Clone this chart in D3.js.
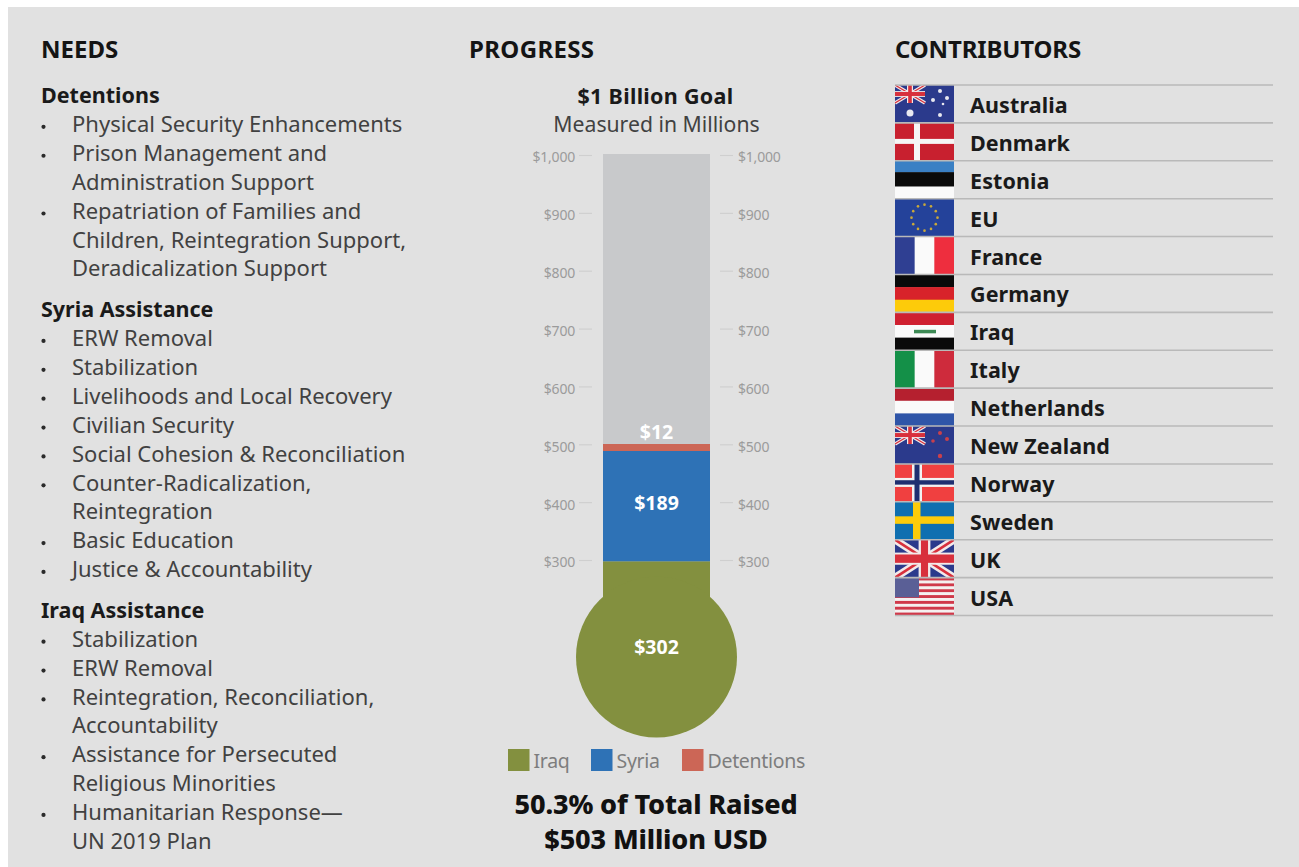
<!DOCTYPE html>
<html>
<head>
<meta charset="utf-8">
<script src="https://cdnjs.cloudflare.com/ajax/libs/d3/7.8.5/d3.min.js"></script>
<style>
html, body { margin: 0; padding: 0; background: #fff; }
svg { display: block; }
text { font-family: "Noto Sans", sans-serif; }
</style>
</head>
<body>
<div id="chart"></div>
<script>
// values
var segNames = ["Iraq", "Syria", "Detentions"];
var segValues = [302, 189, 12];
var segColors = ["#83903f", "#2e72b6", "#cc6656"];
var segLabels = ["$302", "$189", "$12"];
var goal = 1000;
var tickValues = [300, 400, 500, 600, 700, 800, 900, 1000];
var needs = [
    ["h", "Detentions"],
    ["b", "Physical Security Enhancements"],
    ["b", "Prison Management and"],
    ["c", "Administration Support"],
    ["b", "Repatriation of Families and"],
    ["c", "Children, Reintegration Support,"],
    ["c", "Deradicalization Support"],
    ["h", "Syria Assistance"],
    ["b", "ERW Removal"],
    ["b", "Stabilization"],
    ["b", "Livelihoods and Local Recovery"],
    ["b", "Civilian Security"],
    ["b", "Social Cohesion & Reconciliation"],
    ["b", "Counter-Radicalization,"],
    ["c", "Reintegration"],
    ["b", "Basic Education"],
    ["b", "Justice & Accountability"],
    ["h", "Iraq Assistance"],
    ["b", "Stabilization"],
    ["b", "ERW Removal"],
    ["b", "Reintegration, Reconciliation,"],
    ["c", "Accountability"],
    ["b", "Assistance for Persecuted"],
    ["c", "Religious Minorities"],
    ["b", "Humanitarian Response\u2014"],
    ["c", "UN 2019 Plan"]
];
var countries = ["Australia", "Denmark", "Estonia", "EU", "France", "Germany", "Iraq", "Italy",
    "Netherlands", "New Zealand", "Norway", "Sweden", "UK", "USA"];

var W = 1299, H = 867;
var svg = d3.select("#chart").append("svg").attr("width", W).attr("height", H);
svg.append("rect").attr("x", 8).attr("y", 7).attr("width", W - 8).attr("height", H - 7).attr("fill", "#e1e1e1");

function title(x, s, sp) {
    svg.append("text").attr("x", x).attr("y", 58).attr("font-size", 24).attr("font-weight", 700)
        .attr("fill", "#141414").attr("letter-spacing", sp).text(s);
}
title(41, "NEEDS", 0);
title(469, "PROGRESS", 0.35);
title(895, "CONTRIBUTORS", -0.15);

// needs list
var ly = 95.5;
var needG = svg.append("g");
needs.forEach(function(d, i) {
    if (d[0] == "h" && i > 0) ly += 12;
    var t = needG.append("text").attr("y", ly).attr("dy", "0.35em");
    if (d[0] == "h") {
        t.attr("x", 41).attr("font-size", 21.5).attr("font-weight", 700).attr("fill", "#1a1a1a").text(d[1]);
    } else {
        t.attr("x", 72).attr("font-size", 22).attr("fill", "#414141").text(d[1]);
        if (d[0] == "b") {
            needG.append("circle").attr("cx", 43.5).attr("cy", ly + 2.5).attr("r", 2.1).attr("fill", "#2a2a2a");
        }
    }
    ly += 28.87;
});

// thermometer
var cx = 656.5, barW = 107;
var y = d3.scaleLinear().domain([0, goal]).range([737.5, 154]);
var yAxisScale = d3.scaleLinear().domain([300, goal]).range([560, 155]);
var bulbR = 80.5, bulbY = y(0) - bulbR;

svg.append("rect").attr("x", cx - barW / 2).attr("width", barW).attr("y", y(goal))
    .attr("height", y(0) - y(goal) - bulbR).attr("fill", "#c8c9cb");

var stack = [], sum = 0;
segValues.forEach(function(v, i) {
    stack.push({ name: segNames[i], color: segColors[i], label: segLabels[i], y0: sum, y1: sum + v });
    sum += v;
});
svg.selectAll(".seg").data(stack).enter().append("rect").attr("class", "seg")
    .attr("x", cx - barW / 2).attr("width", barW)
    .attr("y", function(d) { return y(d.y1); })
    .attr("height", function(d, i) { return (i == 0 ? bulbY : y(d.y0)) - y(d.y1); })
    .attr("fill", function(d) { return d.color; });
svg.append("circle").attr("cx", cx).attr("cy", bulbY).attr("r", bulbR).attr("fill", segColors[0]);

var labelYs = [647, 503, 432];
svg.selectAll(".seglabel").data(stack).enter().append("text").attr("class", "seglabel")
    .attr("x", cx).attr("y", function(d, i) { return labelYs[i]; }).attr("dy", "0.35em")
    .attr("text-anchor", "middle").attr("font-size", 19.5).attr("font-weight", 700).attr("fill", "#fff")
    .text(function(d) { return d.label; });

function fmt(v) { return "$" + d3.format(",")(v); }
function styleAxis(g) {
    g.select(".domain").remove();
    g.selectAll("line").attr("stroke", "#cfcfcf").attr("stroke-width", 1.2);
    g.selectAll("text").attr("fill", "#9b9b9b").attr("font-size", 14).attr("letter-spacing", -0.2)
        .attr("transform", "translate(0,2.5)")
        .style("font-family", '"Noto Sans", sans-serif');
}
svg.append("g").attr("transform", "translate(592,0)")
    .call(d3.axisLeft(yAxisScale).tickValues(tickValues).tickFormat(fmt).tickSize(13).tickPadding(4))
    .call(styleAxis);
svg.append("g").attr("transform", "translate(720,0)")
    .call(d3.axisRight(yAxisScale).tickValues(tickValues).tickFormat(fmt).tickSize(13).tickPadding(5))
    .call(styleAxis);

svg.append("text").attr("x", cx - 1).attr("y", 96).attr("dy", "0.35em").attr("text-anchor", "middle")
    .attr("font-size", 21.5).attr("font-weight", 700).attr("fill", "#1a1a1a").attr("letter-spacing", 0.3)
    .text("$1 Billion Goal");
svg.append("text").attr("x", cx).attr("y", 125).attr("dy", "0.35em").attr("text-anchor", "middle")
    .attr("font-size", 21.2).attr("fill", "#414141")
    .text("Measured in Millions");

// legend
var legendX = [508, 591, 682];
segNames.forEach(function(n, i) {
    svg.append("rect").attr("x", legendX[i]).attr("y", 749).attr("width", 21.5).attr("height", 22).attr("fill", segColors[i]);
    svg.append("text").attr("x", legendX[i] + 25.5).attr("y", 761).attr("dy", "0.35em")
        .attr("font-size", 19.5).attr("fill", "#7d7d7d").attr("letter-spacing", -0.3).text(n);
});

svg.append("text").attr("x", 656).attr("y", 805).attr("dy", "0.35em").attr("text-anchor", "middle")
    .attr("font-size", 27).attr("font-weight", 800).attr("fill", "#111").attr("letter-spacing", -0.15)
    .text("50.3% of Total Raised");
svg.append("text").attr("x", 656).attr("y", 840).attr("dy", "0.35em").attr("text-anchor", "middle")
    .attr("font-size", 27).attr("font-weight", 800).attr("fill", "#111").attr("letter-spacing", -0.15)
    .text("$503 Million USD");

// contributors
var fx = 895, fw = 59, rowTop = 85;
var row = d3.scaleBand().domain(countries).range([rowTop, 615.5]);
var fh = row.bandwidth();

function hBands(g, cols, fr) {
    var yy = 0;
    cols.forEach(function(c, i) {
        var h = fh * (fr ? fr[i] : 1 / cols.length);
        g.append("rect").attr("x", 0).attr("y", yy).attr("width", fw).attr("height", h + 0.3).attr("fill", c);
        yy += h;
    });
}
function vBands(g, cols, fr) {
    var xx = 0;
    cols.forEach(function(c, i) {
        var w = fw * (fr ? fr[i] : 1 / cols.length);
        g.append("rect").attr("x", xx).attr("y", 0).attr("width", w + 0.3).attr("height", fh).attr("fill", c);
        xx += w;
    });
}
function box(g, x, y, w, h, c) {
    g.append("rect").attr("x", x).attr("y", y).attr("width", w).attr("height", h).attr("fill", c);
}
function cross(g, vx, vw, hy, hh, c) {
    box(g, vx, 0, vw, fh, c);
    box(g, 0, hy, fw, hh, c);
}
function star(g, x, y, r, c) {
    g.append("circle").attr("cx", x).attr("cy", y).attr("r", r).attr("fill", c);
}
function union(g, w, h, bg) {
    box(g, 0, 0, w, h, bg);
    [[0, 0, w, h], [0, h, w, 0]].forEach(function(l) {
        g.append("line").attr("x1", l[0]).attr("y1", l[1]).attr("x2", l[2]).attr("y2", l[3])
            .attr("stroke", "#f2eaea").attr("stroke-width", h * 0.2);
        g.append("line").attr("x1", l[0]).attr("y1", l[1]).attr("x2", l[2]).attr("y2", l[3])
            .attr("stroke", "#d8303c").attr("stroke-width", h * 0.07);
    });
    box(g, w * 0.4, 0, w * 0.2, h, "#f2eaea");
    box(g, 0, h * 0.34, w, h * 0.32, "#f2eaea");
    box(g, w * 0.44, 0, w * 0.12, h, "#d8303c");
    box(g, 0, h * 0.39, w, h * 0.22, "#d8303c");
}

var flagDraw = {
    "Australia": function(g) {
        box(g, 0, 0, fw, fh, "#2b3a8c");
        union(g, 30, 18, "#2b3a8c");
        [[45, 6, 2], [52, 13, 2], [38, 15, 2], [48, 19, 1.3], [45, 30, 2], [15, 28, 3.5]].forEach(function(s) {
            star(g, s[0], s[1], s[2], "#e8e8f0");
        });
    },
    "Denmark": function(g) {
        box(g, 0, 0, fw, fh, "#c8202f");
        cross(g, 19, 6, 16, 5, "#f5f5f5");
    },
    "Estonia": function(g) { hBands(g, ["#3a80c4", "#0a0a0a", "#fafafa"], [0.3, 0.38, 0.32]); },
    "EU": function(g) {
        box(g, 0, 0, fw, fh, "#24429a");
        d3.range(12).forEach(function(i) {
            var a = i / 12 * 2 * Math.PI;
            star(g, 29.5 + 13 * Math.sin(a), fh / 2 + 13 * Math.cos(a), 1.3, "#c9a83a");
        });
    },
    "France": function(g) { vBands(g, ["#2f3f92", "#fafafa", "#ee2e3e"]); },
    "Germany": function(g) { hBands(g, ["#0a0a0a", "#d8232a", "#fdcb0a"]); },
    "Iraq": function(g) {
        hBands(g, ["#cf2030", "#fafafa", "#0a0a0a"]);
        box(g, 19, fh / 2 - 1.5, 22, 3.5, "#3d8a55");
    },
    "Italy": function(g) { vBands(g, ["#149048", "#fafafa", "#ce2b3c"]); },
    "Netherlands": function(g) { hBands(g, ["#b5202f", "#fafafa", "#2f55a8"]); },
    "New Zealand": function(g) {
        box(g, 0, 0, fw, fh, "#2b3a8c");
        union(g, 30, 18, "#2b3a8c");
        [[45, 7, 2], [52, 13, 2], [38, 15, 1.8], [45, 30, 2.2]].forEach(function(s) {
            star(g, s[0], s[1], s[2], "#c8404c");
        });
    },
    "Norway": function(g) {
        box(g, 0, 0, fw, fh, "#f04040");
        cross(g, 17, 10, 14, 9, "#f2f2f2");
        cross(g, 19.5, 5, 16.3, 4.4, "#1f2f70");
    },
    "Sweden": function(g) {
        box(g, 0, 0, fw, fh, "#0f6fb0");
        cross(g, 18, 7.5, 14.5, 7.5, "#fdcb0a");
    },
    "UK": function(g) {
        union(g, fw, fh, "#2b3a8c");
    },
    "USA": function(g) {
        hBands(g, d3.range(13).map(function(i) { return i % 2 ? "#f5f0f0" : "#d0394a"; }));
        box(g, 0, 0, 24, fh * 0.52, "#5a5f96");
    }
};

var defs = svg.append("defs");
countries.forEach(function(c, i) {
    defs.append("clipPath").attr("id", "fc" + i).append("rect").attr("width", fw).attr("height", fh);
    var g = svg.append("g").attr("transform", "translate(" + fx + "," + row(c) + ")").attr("clip-path", "url(#fc" + i + ")");
    flagDraw[c](g);
    svg.append("text").attr("x", 970).attr("y", row(c) + fh / 2 + 1.5).attr("dy", "0.35em")
        .attr("font-size", 21.5).attr("font-weight", 700).attr("fill", "#1a1a1a").attr("letter-spacing", 0.1).text(c);
});
// row rules
svg.selectAll(".rule").data(d3.range(countries.length + 1)).enter().append("line").attr("class", "rule")
    .attr("x1", fx).attr("x2", 1273)
    .attr("y1", function(i) { return rowTop + i * fh; })
    .attr("y2", function(i) { return rowTop + i * fh; })
    .attr("stroke", "#b9b9b9").attr("stroke-width", 1.6);
</script>
</body>
</html>
